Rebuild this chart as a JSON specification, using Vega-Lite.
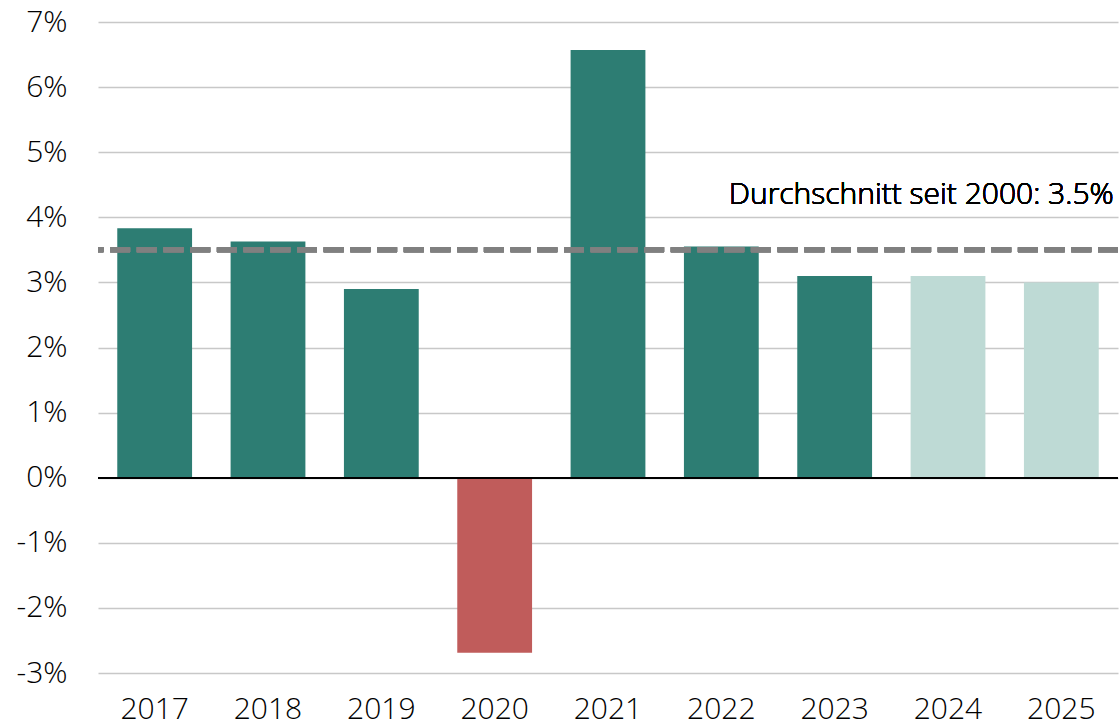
{
  "$schema": "https://vega.github.io/schema/vega-lite/v6.json",
  "width": 1020,
  "height": 651,
  "autosize": {"type": "none"},
  "padding": {"left": 98, "top": 22, "right": 2, "bottom": 54},
  "background": "white",
  "config": {
    "view": {"stroke": null},
    "font": "Open Sans",
    "axis": {"labelFont": "Open Sans", "labelColor": "#000000", "labelFontSize": 30, "labelFontWeight": 300}
  },
  "data": {
    "values": [
      {"year": "2017", "value": 3.83, "type": "actual"},
      {"year": "2018", "value": 3.63, "type": "actual"},
      {"year": "2019", "value": 2.90, "type": "actual"},
      {"year": "2020", "value": -2.69, "type": "negative"},
      {"year": "2021", "value": 6.57, "type": "actual"},
      {"year": "2022", "value": 3.55, "type": "actual"},
      {"year": "2023", "value": 3.10, "type": "actual"},
      {"year": "2024", "value": 3.10, "type": "forecast"},
      {"year": "2025", "value": 3.00, "type": "forecast"}
    ]
  },
  "layer": [
    {
      "mark": {"type": "bar"},
      "encoding": {
        "x": {
          "field": "year", "type": "ordinal",
          "scale": {"paddingInner": 0.34, "paddingOuter": 0.17},
          "axis": {"title": null, "labelAngle": 0, "ticks": false, "domain": false, "labelPadding": 21, "grid": false}
        },
        "y": {
          "field": "value", "type": "quantitative",
          "scale": {"domain": [-3, 7], "nice": false},
          "axis": {
            "title": null, "values": [-3, -2, -1, 0, 1, 2, 3, 4, 5, 6, 7],
            "labelExpr": "datum.value + '%'", "ticks": false, "domain": false,
            "labelPadding": 31, "grid": true, "gridColor": "#c8c8c8", "gridWidth": 1.5
          }
        },
        "color": {
          "field": "type", "type": "nominal", "legend": null,
          "scale": {"domain": ["actual", "negative", "forecast"], "range": ["#2d7d73", "#c05c5b", "#bedad5"]}
        }
      }
    },
    {
      "mark": {"type": "rule", "color": "#000000", "strokeWidth": 1.5},
      "encoding": {"y": {"datum": 0}}
    },
    {
      "mark": {"type": "rule", "color": "#808080", "strokeWidth": 5, "strokeDash": [20, 6.7]},
      "encoding": {"y": {"datum": 3.5}}
    },
    {
      "mark": {"type": "text", "align": "right", "baseline": "alphabetic", "fontSize": 30, "fontWeight": 300, "dy": -46, "dx": 15, "color": "#000000", "font": "Open Sans"},
      "encoding": {
        "x": {"datum": "2025", "bandPosition": 1},
        "y": {"datum": 3.5},
        "text": {"value": "Durchschnitt seit 2000: 3.5%"}
      }
    }
  ]
}
